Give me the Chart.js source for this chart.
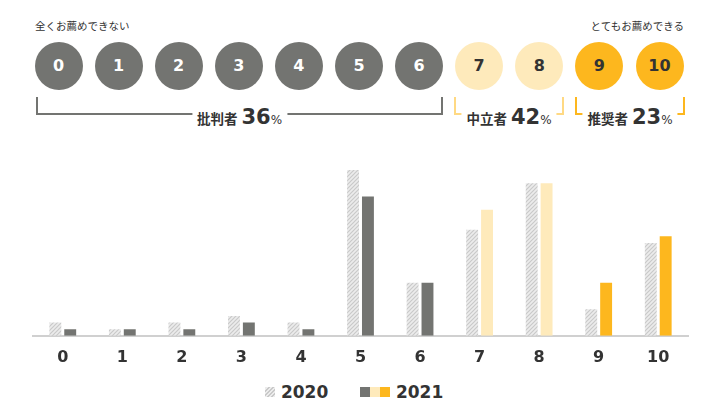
<!DOCTYPE html>
<html>
<head>
<meta charset="utf-8">
<script src="https://cdn.jsdelivr.net/npm/chart.js@4.4.1/dist/chart.umd.min.js"></script>
<style>
  body { margin: 0; background: #fff; width: 710px; height: 418px; position: relative; overflow: hidden;
         font-family: "Noto Sans CJK JP", sans-serif; color: #333; }
  .note { position: absolute; top: 18px; font-size: 10.5px; line-height: 16px; color: #333; white-space: nowrap; }
  .dot { position: absolute; top: 42px; width: 48px; height: 48px; border-radius: 50%;
         font: bold 16px "DejaVu Sans", sans-serif; line-height: 48px; text-align: center; }
  .bracket { position: absolute; top: 97px; height: 16px; border-style: solid; border-width: 0 2px 2px 2px; }
  .bracket span { position: absolute; left: 50%; top: 8px; transform: translateX(-50%); background: #fff;
                  padding: 0 5px; white-space: nowrap; font-size: 13.5px; font-weight: bold; line-height: 22px; color: #333; }
  .bracket b { font: bold 21px "DejaVu Sans", sans-serif; margin-left: 4px; }
  .bracket i { font: normal 12px "DejaVu Sans", sans-serif; }
  #wrap { position: absolute; left: 0; top: 140px; width: 710px; height: 231px; }
  .legend { position: absolute; top: 381px; font: bold 17px "DejaVu Sans", sans-serif; line-height: 22px; color: #333; }
  .sw { display: inline-block; width: 10px; height: 10px; vertical-align: 1px; }
</style>
</head>
<body>
<div class="note" style="left:35px">全くお薦めできない</div>
<div class="note" style="right:26px">とてもお薦めできる</div>
<div id="scale"></div>
<div id="wrap"><canvas id="npsChart"></canvas></div>
<div class="legend" style="left:265px"><span class="sw" id="sw2020"></span> 2020</div>
<div class="legend" style="left:360px"><span class="sw" style="background:#737471"></span><span class="sw" style="background:#feeabb"></span><span class="sw" style="background:#fdb71e"></span> 2021</div>
<script>
// 推奨度スコア（0〜10）
var scores = ['0', '1', '2', '3', '4', '5', '6', '7', '8', '9', '10'];
// 回答比率（%）
var values2020 = [2, 1, 2, 3, 2, 25, 8, 16, 23, 4, 14];
var values2021 = [1, 1, 1, 2, 1, 21, 8, 19, 23, 8, 15];

// グループ：批判者 / 中立者 / 推奨者
var groupNames = ['批判者', '中立者', '推奨者'];
var groupShares = [36, 42, 23];
var groupOf = [0, 0, 0, 0, 0, 0, 0, 1, 1, 2, 2];
var groupFill = ['#737471', '#feeabb', '#fdb71e'];
var groupLine = ['#737471', '#ffd983', '#fdb71e'];
var groupText = ['#fff', '#333', '#333'];
var groupRange = [[37, 442], [455, 563], [576, 684]];

// 上部の丸とカッコ
var scaleBox = document.getElementById('scale');
scores.forEach(function(s, i) {
  var d = document.createElement('div');
  var g = groupOf[i];
  d.className = 'dot';
  d.style.left = (34.5 + 60.1 * i) + 'px';
  d.style.background = groupFill[g];
  d.style.color = groupText[g];
  d.textContent = s;
  scaleBox.appendChild(d);
});
groupNames.forEach(function(name, g) {
  var b = document.createElement('div');
  b.className = 'bracket';
  b.style.left = (groupRange[g][0] - 1) + 'px';
  b.style.width = (groupRange[g][1] - groupRange[g][0] - 2) + 'px';
  b.style.borderColor = groupLine[g];
  b.innerHTML = '<span>' + name + '<b>' + groupShares[g] + '</b><i>%</i></span>';
  scaleBox.appendChild(b);
});

// 2020年のハッチング
function makeHatch() {
  var c = document.createElement('canvas');
  c.width = 4; c.height = 4;
  var g = c.getContext('2d');
  g.fillStyle = '#ececec';
  g.fillRect(0, 0, 4, 4);
  g.strokeStyle = '#c9c9c9';
  g.lineWidth = 1.2;
  g.beginPath();
  g.moveTo(0, 4); g.lineTo(4, 0);
  g.moveTo(-1, 1); g.lineTo(1, -1);
  g.moveTo(3, 5); g.lineTo(5, 3);
  g.stroke();
  return g.createPattern(c, 'repeat');
}
var hatch = makeHatch();
document.getElementById('sw2020').style.background =
  'repeating-linear-gradient(-45deg, #ececec 0 1.5px, #c9c9c9 1.5px 3px)';

var colors2021 = groupOf.map(function(g) { return groupFill[g]; });

var chart = new Chart(document.getElementById('npsChart').getContext('2d'), {
  type: 'bar',
  data: {
    labels: scores,
    datasets: [
      { label: '2020', data: values2020, backgroundColor: hatch, borderWidth: 0,
        categoryPercentage: 0.5, barPercentage: 0.8 },
      { label: '2021', data: values2021, backgroundColor: colors2021, borderWidth: 0,
        categoryPercentage: 0.5, barPercentage: 0.8 }
    ]
  },
  options: {
    responsive: true,
    maintainAspectRatio: false,
    animation: false,
    layout: { padding: { left: 33, right: 22, top: 10, bottom: 0 } },
    plugins: { legend: { display: false }, tooltip: { enabled: false } },
    scales: {
      x: {
        grid: { display: false },
        border: { color: '#d0d0d0', width: 2 },
        ticks: { color: '#333', padding: 4, font: { family: "'DejaVu Sans', sans-serif", size: 16, weight: 'bold' } }
      },
      y: { display: false, min: 0, max: 28 }
    }
  }
});
</script>
</body>
</html>
